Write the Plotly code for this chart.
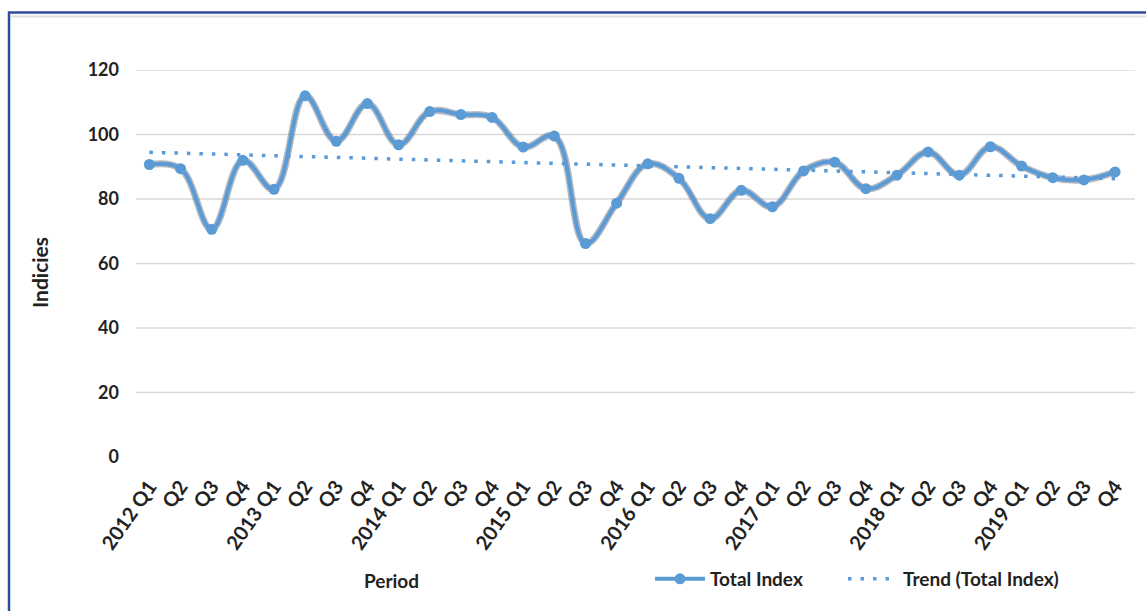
import numpy as np
import plotly.graph_objects as go

# Quarterly periods and their axis labels
periods = ["2012 Q1", "Q2", "Q3", "Q4",
           "2013 Q1", "Q2", "Q3", "Q4",
           "2014 Q1", "Q2", "Q3", "Q4",
           "2015 Q1", "Q2", "Q3", "Q4",
           "2016 Q1", "Q2", "Q3", "Q4",
           "2017 Q1", "Q2", "Q3", "Q4",
           "2018 Q1", "Q2", "Q3", "Q4",
           "2019 Q1", "Q2", "Q3", "Q4"]

total_index = [90.7, 89.4, 70.6, 92.0, 83.0, 112.0, 97.9, 109.6,
               96.8, 107.1, 106.2, 105.3, 96.1, 99.5, 66.2, 78.7,
               90.9, 86.4, 73.9, 82.7, 77.6, 88.7, 91.4, 83.2,
               87.4, 94.6, 87.4, 96.2, 90.2, 86.6, 85.9, 88.4]

y_ticks = [0, 20, 40, 60, 80, 100, 120]

FONT = "Lato"
TEXT = "#222222"
BLUE = "#5B9BD5"

# pixel geometry of the plotting area
L, R, T, B = 136, 11, 70, 154
PW, PH = 1146 - L - R, 611 - T - B

def px_x(p):
    return (p - L) / PW

def px_y(p):
    return (611 - B - p) / PH

idx = np.arange(len(periods))
# linear least-squares trend of the index
slope, intercept = np.polyfit(idx, total_index, 1)
trend = slope * idx + intercept

fig = go.Figure()

# soft outline under the main series
fig.add_trace(go.Scatter(
    x=idx, y=total_index, mode="lines",
    line=dict(color="rgba(95,100,120,0.45)", width=7, shape="spline", smoothing=1.1),
    showlegend=False, hoverinfo="skip"))

fig.add_trace(go.Scatter(
    x=idx, y=total_index, mode="lines+markers", name="Total Index",
    line=dict(color=BLUE, width=4, shape="spline", smoothing=1.1),
    marker=dict(color=BLUE, size=11, line=dict(width=0)),
    hoverinfo="skip", legend="legend"))

fig.add_trace(go.Scatter(
    x=idx, y=trend, mode="lines", name="Trend (Total Index)",
    line=dict(color=BLUE, width=3.5, dash="3.5px,9px"),
    hoverinfo="skip", legend="legend2"))

# horizontal gridlines (none on the baseline)
for v in y_ticks[1:]:
    fig.add_shape(type="line", xref="paper", yref="y", x0=0, x1=1, y0=v, y1=v,
                  line=dict(color="#D9D9D9", width=1.6), layer="below")

# frame around the chart
fig.add_shape(type="rect", xref="paper", yref="paper",
              x0=px_x(9), x1=px_x(1170), y0=px_y(640), y1=px_y(12.5),
              line=dict(color="#2F4C9C", width=2.5), layer="above")
fig.add_shape(type="line", xref="paper", yref="paper",
              x0=px_x(10.5), x1=px_x(1170), y0=px_y(16.5), y1=px_y(16.5),
              line=dict(color="#DEDEDE", width=2), layer="above")

fig.add_annotation(text="Period", xref="paper", yref="paper",
                   x=px_x(391), y=px_y(580),
                   showarrow=False, xanchor="center", yanchor="middle",
                   font=dict(family=FONT, size=19, color=TEXT, weight="bold"))

fig.add_annotation(text="Indicies", xref="paper", yref="paper",
                   x=px_x(39), y=px_y(273), textangle=-90,
                   showarrow=False, xanchor="center", yanchor="middle",
                   font=dict(family=FONT, size=21, color=TEXT, weight="bold"))

legend_font = dict(family=FONT, size=19, color=TEXT, weight="bold")

fig.update_layout(
    width=1146, height=611,
    margin=dict(l=L, r=R, t=T, b=B),
    paper_bgcolor="white", plot_bgcolor="white",
    font=dict(family=FONT, color=TEXT),
    showlegend=True,
    legend=dict(orientation="h", x=px_x(650), y=px_y(579),
                xanchor="left", yanchor="middle", font=legend_font,
                itemwidth=50, bgcolor="rgba(0,0,0,0)"),
    legend2=dict(orientation="h", x=px_x(843), y=px_y(579),
                 xanchor="left", yanchor="middle", font=legend_font,
                 itemwidth=50, bgcolor="rgba(0,0,0,0)"),
    xaxis=dict(range=[-0.43, 31.64], tickmode="array", tickvals=idx, ticktext=periods,
               tickangle=-55, showgrid=False, zeroline=False, showline=False,
               ticks="", ticklabelstandoff=13,
               tickfont=dict(family=FONT, size=20, color=TEXT, weight="bold")),
    yaxis=dict(range=[0, 120], tickvals=y_ticks, showgrid=False, zeroline=False,
               showline=False, ticks="", ticklabelstandoff=16,
               tickfont=dict(family=FONT, size=18, color=TEXT, weight="bold")),
)

fig.write_html("out.html", config={"displayModeBar": False})
